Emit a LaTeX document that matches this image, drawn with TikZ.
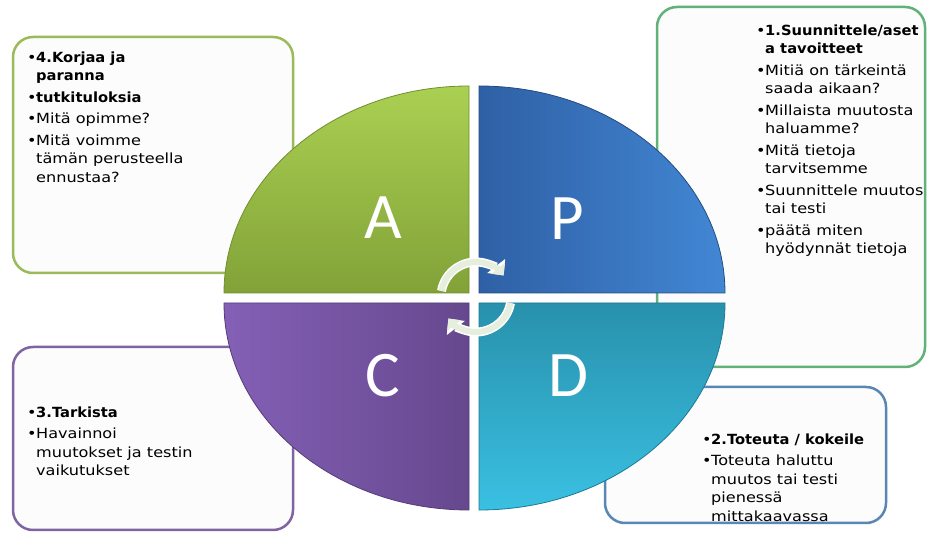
\documentclass[tikz,border=0pt]{standalone}
\usepackage{fontspec}
\setmainfont{DejaVu Sans}[FakeStretch=1.15,BoldFeatures={FakeStretch=1.05}]
\newfontfamily\isofont{Carlito}
\usetikzlibrary{arrows.meta}

\definecolor{pohja}{RGB}{252,252,252}
\definecolor{reunaA}{RGB}{155,187,89}
\definecolor{reunaP}{RGB}{96,178,120}
\definecolor{reunaC}{RGB}{128,100,162}
\definecolor{reunaD}{RGB}{88,135,180}
\definecolor{nuolivari}{RGB}{230,238,222}

\newlength{\luotiw}\setlength{\luotiw}{9pt}
\newcommand{\kohta}{\makebox[\luotiw][l]{\textbullet}}
\newcommand{\jatko}{\hspace*{\luotiw}}

\begin{document}
\begin{tikzpicture}[x=1pt,y=1pt,
    laatikko/.style={draw=#1,line width=2.5pt,rounded corners=20pt,fill=pohja},
    teksti/.style={anchor=north west,align=left,inner sep=0pt,
      font=\fontsize{14}{18.5}\selectfont},
    kirjain/.style={text=white,inner sep=0pt,
      font=\isofont\fontsize{65}{65}\selectfont},
    lohko/.style={line width=0.8pt},
    nuoli/.style={line width=6pt,draw=nuolivari,-{Triangle[width=17pt,length=9pt]}},
    nuolireuna/.style={line width=9pt,draw=white,-{Triangle[width=22pt,length=12pt]}}]
    \useasboundingbox[fill=white] (0,0) rectangle (927,533);

    \draw[laatikko=reunaA] (13,260) rectangle (293,496);
    \draw[laatikko=reunaP] (657,166) rectangle (925,526);
    \draw[laatikko=reunaC] (13,3) rectangle (293,186);
    \draw[laatikko=reunaD] (605,10) rectangle (886,146);

    \node[teksti] (t_A) at (27,481.5)
        {\kohta\textbf{4.Korjaa ja}\\ \jatko\textbf{paranna}\\[3pt]
         \kohta\textbf{tutkituloksia}\\[3pt]
         \kohta Mitä opimme?\\[3pt]
         \kohta Mitä voimme\\ \jatko tämän perusteella\\ \jatko ennustaa?};
    \node[teksti] (t_P) at (756,508.5)
        {\kohta\textbf{1.Suunnittele/aset}\\ \jatko\textbf{a tavoitteet}\\[3pt]
         \kohta Mitiä on tärkeintä\\ \jatko saada aikaan?\\[3pt]
         \kohta Millaista muutosta\\ \jatko haluamme?\\[3pt]
         \kohta Mitä tietoja\\ \jatko tarvitsemme\\[3pt]
         \kohta Suunnittele muutos\\ \jatko tai testi\\[3pt]
         \kohta päätä miten\\ \jatko hyödynnät tietoja};
    \node[teksti] (t_C) at (27,126.5)
        {\kohta\textbf{3.Tarkista}\\[3pt]
         \kohta Havainnoi\\ \jatko muutokset ja testin\\ \jatko vaikutukset};
    \node[teksti] (t_D) at (702,99.5)
        {\kohta\textbf{2.Toteuta / kokeile}\\[3pt]
         \kohta Toteuta haluttu\\ \jatko muutos tai testi\\ \jatko pienessä\\ \jatko mittakaavassa};

    \path[lohko,draw={rgb,255:red,112;green,142;blue,50},
        top color={rgb,255:red,170;green,208;blue,82},bottom color={rgb,255:red,130;green,162;blue,56}]
        (469,240) -- (224,240) arc[start angle=180,end angle=90,x radius=245pt,y radius=207pt] -- cycle;
    \path[lohko,draw={rgb,255:red,35;green,75;blue,130},
        left color={rgb,255:red,47;green,96;blue,165},right color={rgb,255:red,66;green,135;blue,212}]
        (479,240) -- (479,447) arc[start angle=90,end angle=0,x radius=246pt,y radius=207pt] -- cycle;
    \path[lohko,draw={rgb,255:red,85;green,60;blue,120},
        left color={rgb,255:red,132;green,96;blue,182},right color={rgb,255:red,102;green,72;blue,142}]
        (469,230) -- (224,230) arc[start angle=180,end angle=270,x radius=245pt,y radius=207pt] -- cycle;
    \path[lohko,draw={rgb,255:red,30;green,120;blue,150},
        top color={rgb,255:red,40;green,145;blue,172},bottom color={rgb,255:red,58;green,192;blue,226}]
        (479,230) -- (725,230) arc[start angle=0,end angle=-90,x radius=246pt,y radius=207pt] -- cycle;

    \node[kirjain] (A) at (383,315) {A};
    \node[kirjain] (P) at (567,314) {P};
    \node[kirjain] (C) at (383,157) {C};
    \node[kirjain] (D) at (568,157) {D};

    \coordinate (keskus) at (476,236);
    \draw[nuolireuna] ([shift={(170:35)}]keskus) arc[start angle=170,end angle=38,radius=35pt];
    \draw[nuolireuna] ([shift={(350:35)}]keskus) arc[start angle=350,end angle=218,radius=35pt];
    \draw[nuoli] ([shift={(170:35)}]keskus) arc[start angle=170,end angle=38,radius=35pt];
    \draw[nuoli] ([shift={(350:35)}]keskus) arc[start angle=350,end angle=218,radius=35pt];
\end{tikzpicture}
\end{document}
